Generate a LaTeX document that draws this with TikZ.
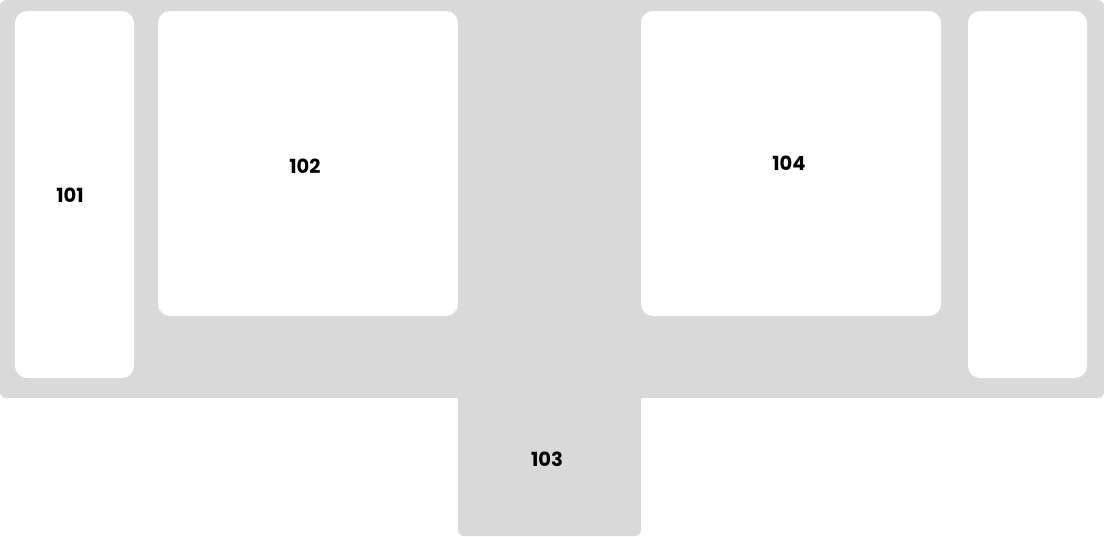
\documentclass[tikz,border=0pt]{standalone}
\usepackage{fontspec}
\setmainfont{Poppins}
\definecolor{panelgray}{HTML}{D9D9D9}
\begin{document}
\begin{tikzpicture}[x=1pt,y=-1pt,
  whitebox/.style={fill=white,rounded corners=12pt},
  lbl/.style={font=\fontsize{19.5}{22}\selectfont\bfseries,text=black,inner sep=0pt}]
\useasboundingbox (0,0) rectangle (1104,536);
% background T-shape
\fill[panelgray,rounded corners=6pt] (0,0) rectangle (1104,398);
\fill[panelgray] (458,380) -- (641,380) [rounded corners=6pt] -- (641,536) -- (458,536) [sharp corners] -- (458,380) -- cycle;
% white panels
\fill[whitebox] (15,11) rectangle (134,378);
\fill[whitebox] (158,11) rectangle (458,316);
\fill[whitebox] (641,11) rectangle (941,316);
\fill[whitebox] (968,11) rectangle (1087,378);
% labels
\node[lbl] (n101) at (70,195) {101};
\node[lbl] (n102) at (305,166) {102};
\node[lbl] (n103) at (547,459) {103};
\node[lbl] (n104) at (789,163) {104};
\end{tikzpicture}
\end{document}
